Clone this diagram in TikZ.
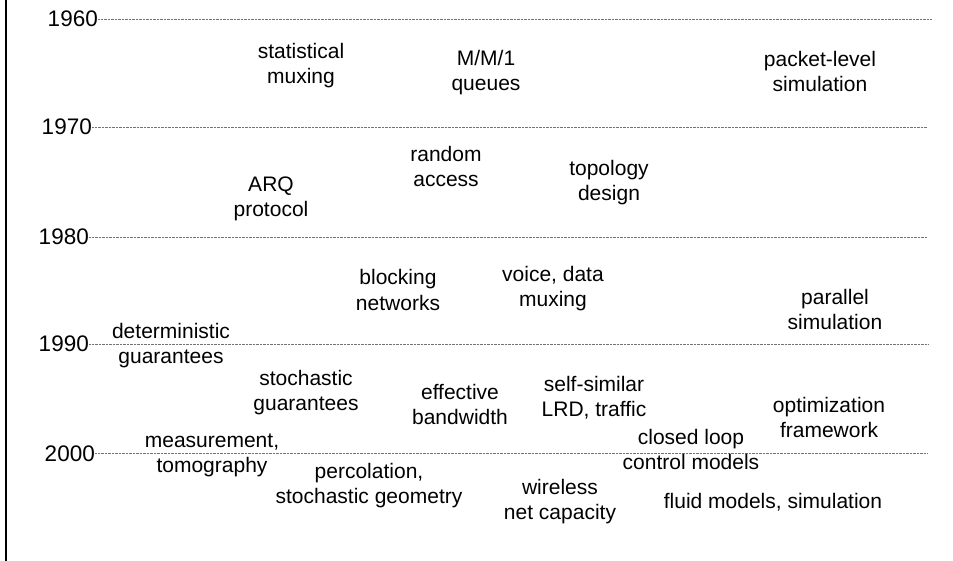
\documentclass[tikz,border=0pt]{standalone}
\usepackage{fontspec}
\setmainfont{Liberation Sans}
\begin{document}
\begin{tikzpicture}[x=1pt,y=-1pt,
  lbl/.style={font=\fontsize{21}{25}\selectfont, align=center, anchor=base, inner sep=0pt},
  yr/.style={font=\fontsize{22.5}{26}\selectfont, anchor=base east, inner sep=0pt},
  dotline/.style={black!55, line width=0.7pt, dash pattern=on 0.7pt off 0.7pt},
  axisline/.style={line width=2pt, black}]
\useasboundingbox (0,0) rectangle (953,561);
% time axis
\coordinate (axtop) at (6,0);
\coordinate (axbot) at (6,561);
\draw[axisline] (axtop) -- (axbot);
% year labels
\node[yr] (yr1960) at (98,27) {1960};
\node[yr] (yr1970) at (92,135) {1970};
\node[yr] (yr1980) at (89,245) {1980};
\node[yr] (yr1990) at (89,352) {1990};
\node[yr] (yr2000) at (95,461) {2000};
\coordinate (e1960) at (932,0);
\coordinate (e1970) at (927,0);
\coordinate (e1980) at (927,0);
\coordinate (e1990) at (928,0);
\coordinate (e2000) at (927,0);
\draw[dotline] (yr1960.east) -- (yr1960.east -| e1960);
\draw[dotline] (yr1970.east) -- (yr1970.east -| e1970);
\draw[dotline] (yr1980.east) -- (yr1980.east -| e1980);
\draw[dotline] (yr1990.east) -- (yr1990.east -| e1990);
\draw[dotline] (yr2000.east) -- (yr2000.east -| e2000);
% topics (base anchor = baseline of the last line)
\node[lbl] (statmux) at (301,84) {statistical\\muxing};
\node[lbl] (mm1) at (486,91) {M/M/1\\queues};
\node[lbl] (pktsim) at (820,92) {packet-level\\simulation};
\node[lbl] (random) at (446,187) {random\\access};
\node[lbl] (arq) at (271,217) {ARQ\\protocol};
\node[lbl] (topo) at (609,201) {topology\\design};
\node[lbl] (blocking) at (398,310) {blocking\\networks};
\node[lbl] (voice) at (553,307) {voice, data\\muxing};
\node[lbl] (parsim) at (835,330) {parallel\\simulation};
\node[lbl] (detg) at (171,363) {deterministic\\guarantees};
\node[lbl] (stochg) at (306,410) {stochastic\\guarantees};
\node[lbl] (effbw) at (460,424) {effective\\bandwidth};
\node[lbl] (selfsim) at (594,416) {self-similar\\LRD, traffic};
\node[lbl] (optim) at (829,437) {optimization\\framework};
\node[lbl] (meas) at (212,472) {measurement,\\tomography};
\node[lbl] (closed) at (691,469) {closed loop\\control models};
\node[lbl] (perc) at (369,503) {percolation,\\stochastic geometry};
\node[lbl] (wireless) at (560,519) {wireless\\net capacity};
\node[lbl] (fluid) at (773,508) {fluid models, simulation};
\end{tikzpicture}
\end{document}
